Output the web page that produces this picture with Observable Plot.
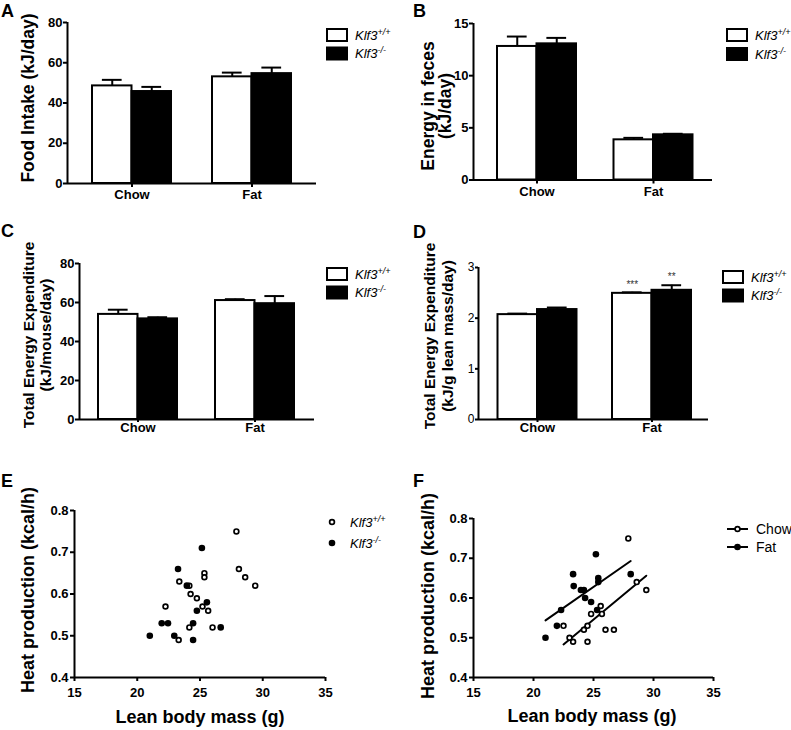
<!DOCTYPE html>
<html><head><meta charset="utf-8">
<script src="https://cdn.jsdelivr.net/npm/d3@7"></script>
<script src="https://cdn.jsdelivr.net/npm/@observablehq/plot@0.6"></script>
<style>
body{margin:0;background:#fff;}
#fig{position:relative;width:791px;height:730px;overflow:hidden;background:#fff;}
#fig > svg{position:absolute;}
</style></head><body><div id="fig"></div>
<script>
// ---------- data ----------
const diets = ["Chow", "Fat"];
const genotypes = ["Klf3+/+", "Klf3-/-"];

// A: Food intake (kJ/day)
const foodWT = [48.5, 53.0], foodWTsem = [3.0, 2.1];
const foodKO = [45.7, 54.6], foodKOsem = [2.3, 3.0];
// B: Energy in feces (kJ/day)
const fecesWT = [12.8, 3.85], fecesWTsem = [0.95, 0.19];
const fecesKO = [13.05, 4.33], fecesKOsem = [0.57, 0.10];
// C: Total energy expenditure (kJ/mouse/day)
const teeWT = [53.9, 61.0], teeWTsem = [2.4, 0.7];
const teeKO = [51.6, 59.4], teeKOsem = [0.85, 3.9];
// D: Total energy expenditure (kJ/g lean mass/day)
const teeLeanWT = [2.07, 2.49], teeLeanWTsem = [0.02, 0.02];
const teeLeanKO = [2.17, 2.55], teeLeanKOsem = [0.04, 0.10];
const sigWT = ["", "***"], sigKO = ["", "**"];

// E: by genotype
const wtMass = [27.9, 28.1, 28.6, 29.4, 25.35, 25.35, 23.35, 24.15, 24.25, 24.75, 22.25, 25.2, 25.65, 26.0, 24.15, 23.3];
const wtHeat = [0.75, 0.66, 0.64, 0.62, 0.65, 0.64, 0.63, 0.62, 0.60, 0.59, 0.57, 0.57, 0.56, 0.52, 0.52, 0.49];
const koMass = [25.15, 23.25, 23.95, 25.55, 24.75, 21.0, 21.95, 22.45, 22.95, 24.45, 24.45, 26.65];
const koHeat = [0.71, 0.66, 0.62, 0.58, 0.56, 0.50, 0.53, 0.53, 0.50, 0.53, 0.49, 0.52];
// F: by diet
const chowMass = [27.9, 28.6, 29.4, 25.6, 24.8, 25.7, 22.5, 24.5, 24.2, 26.0, 26.7, 23.0, 23.3, 24.5];
const chowHeat = [0.75, 0.64, 0.62, 0.58, 0.56, 0.56, 0.53, 0.53, 0.52, 0.52, 0.52, 0.50, 0.49, 0.49];
const fatMass = [25.2, 23.3, 23.35, 25.4, 25.4, 28.1, 23.95, 24.2, 24.3, 24.8, 22.3, 25.3, 21.95, 21.0];
const fatHeat = [0.71, 0.66, 0.63, 0.65, 0.64, 0.66, 0.62, 0.62, 0.60, 0.59, 0.57, 0.57, 0.53, 0.50];

const yTicksA = [0, 20, 40, 60, 80];
const yTicksB = [0, 5, 10, 15];
const yTicksC = [0, 20, 40, 60, 80];
const yTicksD = [0, 1, 2, 3];
const xTicksEF = [15, 20, 25, 30, 35];
const yTicksEF = [0.4, 0.5, 0.6, 0.7, 0.8];

// ---------- helpers ----------
const FONT = "Liberation Sans, Arial, Helvetica, sans-serif";
const fig = document.getElementById("fig");

function barRows(wt, wtSem, ko, koSem, wtSig = [], koSig = []) {
  const rows = [];
  diets.forEach((diet, di) => {
    rows.push({diet, di, gi: 0, geno: genotypes[0], mean: wt[di], sem: wtSem[di], sig: wtSig[di] || ""});
    rows.push({diet, di, gi: 1, geno: genotypes[1], mean: ko[di], sem: koSem[di], sig: koSig[di] || ""});
  });
  return rows;
}

function place(svg, left, top) {
  svg.style.left = left + "px";
  svg.style.top = top + "px";
  fig.appendChild(svg);
}

function barPanel(o) {
  const step = o.c1 - o.c0;
  const W = 39.5 / step;
  const dom = [-(o.c0 - o.axisX) / step, 1 + (o.axisEnd - o.c1) / step];
  const x1 = d => d.di + (d.gi - 1) * W;
  const x2 = d => d.di + d.gi * W;
  const xc = d => d.di + (d.gi - 0.5) * W;
  const rows = o.rows;
  const marks = [
    Plot.rect(rows.filter(d => d.gi === 0), {x1, x2, y1: () => 0, y2: "mean", fill: "white", stroke: "black", strokeWidth: 2}),
    Plot.rect(rows.filter(d => d.gi === 1), {x1, x2, y1: () => 0, y2: "mean", fill: "black", stroke: "black", strokeWidth: 2}),
    Plot.ruleX(rows, {x: xc, y1: "mean", y2: d => d.mean + d.sem, stroke: "black", strokeWidth: 2}),
    Plot.ruleY(rows, {y: d => d.mean + d.sem, x1: d => xc(d) - W / 4, x2: d => xc(d) + W / 4, stroke: "black", strokeWidth: 2}),
    Plot.ruleY([0], {stroke: "black", strokeWidth: 2}),
    Plot.ruleX([dom[0]], {stroke: "black", strokeWidth: 2}),
    Plot.axisX({ticks: [0, 1], tickFormat: i => diets[i], tickSize: o.catTick, tickPadding: o.catPad, label: null,
      fontSize: 13, fontWeight: "bold", strokeWidth: 2}),
    Plot.axisY({ticks: o.yTicks, tickSize: o.yTickSize, tickPadding: 1, tickFormat: d => String(d), label: null,
      fontSize: o.yFont, fontWeight: o.yWeight, strokeWidth: 2})
  ];
  if (o.sig) {
    marks.push(Plot.text(rows.filter(d => d.sig), {x: xc, y: d => d.mean + d.sem, text: "sig", dy: -8,
      fontSize: 10, fill: "#333", textAnchor: "middle"}));
  }
  const svg = Plot.plot({
    width: o.width, height: o.height,
    marginLeft: o.axisX - o.left, marginRight: o.left + o.width - o.axisEnd,
    marginTop: o.frameTop - o.top, marginBottom: o.top + o.height - o.frameBottom,
    x: {type: "linear", domain: dom},
    y: {domain: [0, o.yMax]},
    style: {fontFamily: FONT, fontSize: "13px", overflow: "visible", background: "transparent", color: "black"},
    marks
  });
  place(svg, o.left, o.top);
}

function scatterPanel(o) {
  const marks = [
    Plot.ruleX([15], {stroke: "black", strokeWidth: 2}),
    Plot.ruleY([0.4], {stroke: "black", strokeWidth: 2}),
    Plot.axisX({ticks: xTicksEF, tickSize: 4, tickPadding: 6, label: null, fontSize: 13, fontWeight: "bold", strokeWidth: 2}),
    Plot.axisY({ticks: yTicksEF, tickSize: 4, tickPadding: 2, tickFormat: d3.format(".1f"), label: null, fontSize: 13, fontWeight: "bold", strokeWidth: 2})
  ];
  if (o.regress) {
    for (const s of o.series) {
      marks.push(Plot.linearRegressionY(s.data, {x: "x", y: "y", ci: 0, stroke: "black", strokeWidth: 2}));
    }
  }
  for (const s of o.series) {
    if (s.open) marks.push(Plot.dot(s.data, {x: "x", y: "y", r: 2.4, fill: "white", stroke: "black", strokeWidth: 1.7}));
    else marks.push(Plot.dot(s.data, {x: "x", y: "y", r: 3.3, fill: "black", stroke: "none"}));
  }
  const svg = Plot.plot({
    width: o.width, height: o.height,
    marginLeft: o.x0 - o.left, marginRight: o.left + o.width - o.x1,
    marginTop: o.y1 - o.top, marginBottom: o.top + o.height - o.y0,
    x: {domain: [15, 35]},
    y: {domain: [0.4, 0.8]},
    style: {fontFamily: FONT, fontSize: "13px", overflow: "visible", background: "transparent", color: "black"},
    marks
  });
  place(svg, o.left, o.top);
}

const pts = (xs, ys) => xs.map((x, i) => ({x, y: ys[i]}));

// ---------- panels ----------
barPanel({rows: barRows(foodWT, foodWTsem, foodKO, foodKOsem), left: 0, top: 0, width: 390, height: 215,
  axisX: 67, c0: 131.5, c1: 251.5, axisEnd: 316, frameTop: 22, frameBottom: 183, yMax: 80, yTicks: yTicksA,
  yTickSize: 4, yFont: 13, yWeight: "bold", catTick: 4, catPad: 2});
barPanel({rows: barRows(fecesWT, fecesWTsem, fecesKO, fecesKOsem), left: 390, top: 0, width: 401, height: 215,
  axisX: 473, c0: 536.5, c1: 653, axisEnd: 712, frameTop: 23, frameBottom: 179.5, yMax: 15, yTicks: yTicksB,
  yTickSize: 4, yFont: 13, yWeight: "bold", catTick: 4, catPad: 3});
barPanel({rows: barRows(teeWT, teeWTsem, teeKO, teeKOsem), left: 0, top: 215, width: 390, height: 225,
  axisX: 79, c0: 137.5, c1: 254.5, axisEnd: 314, frameTop: 263, frameBottom: 419, yMax: 80, yTicks: yTicksC,
  yTickSize: 4, yFont: 13, yWeight: "bold", catTick: 3, catPad: 0});
barPanel({rows: barRows(teeLeanWT, teeLeanWTsem, teeLeanKO, teeLeanKOsem, sigWT, sigKO), left: 390, top: 215, width: 401, height: 225,
  axisX: 478, c0: 537, c1: 651.5, axisEnd: 708, frameTop: 267, frameBottom: 419, yMax: 3, yTicks: yTicksD,
  yTickSize: 3, yFont: 12, yWeight: "normal", catTick: 3, catPad: 0, sig: true});

scatterPanel({left: 0, top: 440, width: 390, height: 290, x0: 74, x1: 325, y1: 510, y0: 677,
  series: [{data: pts(wtMass, wtHeat), open: true}, {data: pts(koMass, koHeat), open: false}]});
scatterPanel({left: 390, top: 440, width: 401, height: 290, x0: 473, x1: 713, y1: 518, y0: 677, regress: true,
  series: [{data: pts(chowMass, chowHeat), open: true}, {data: pts(fatMass, fatHeat), open: false}]});

// ---------- overlay: panel letters, axis titles, legends ----------
const ov = d3.select(fig).append("svg")
  .attr("width", 791).attr("height", 730)
  .style("left", "0px").style("top", "0px").style("pointer-events", "none")
  .attr("font-family", FONT);

[["A", 1, 17], ["B", 413, 17], ["C", 1, 237], ["D", 413, 238], ["E", 1, 487], ["F", 413, 487]].forEach(([t, x, y]) =>
  ov.append("text").attr("x", x).attr("y", y).attr("font-size", 18).attr("font-weight", "bold").text(t));

function vtitle(lines, xs, cy, size) {
  lines.forEach((t, i) => ov.append("text")
    .attr("transform", `translate(${xs[i]},${cy}) rotate(-90)`)
    .attr("text-anchor", "middle").attr("dominant-baseline", "central")
    .attr("font-size", size).attr("font-weight", "bold").text(t));
}
vtitle(["Food Intake (kJ/day)"], [28], 98, 17.5);
vtitle(["Energy in feces", "(kJ/day)"], [428, 445], 106, 17.5);
vtitle(["Total Energy Expenditure", "(kJ/mouse/day)"], [28, 45], 335, 15.5);
vtitle(["Total Energy Expenditure", "(kJ/g lean mass/day)"], [429, 447], 336, 15.5);
vtitle(["Heat production (kcal/h)"], [28], 590, 18);
vtitle(["Heat production (kcal/h)"], [428], 596, 18);

[[200, 723], [592, 722]].forEach(([x, y]) => ov.append("text").attr("x", x).attr("y", y)
  .attr("text-anchor", "middle").attr("font-size", 18).attr("font-weight", "bold").text("Lean body mass (g)"));

function genoLabel(x, cy, gi) {
  const t = ov.append("text").attr("x", x).attr("y", cy + 4.7).attr("font-size", 13).attr("font-style", "italic");
  t.append("tspan").text("Klf3");
  t.append("tspan").attr("dy", -5).attr("font-size", 9).text(gi === 0 ? "+/+" : "-/-");
}
function boxLegend(x, y0, y1) {
  ov.append("rect").attr("x", x).attr("y", y0).attr("width", 20).attr("height", 12)
    .attr("fill", "white").attr("stroke", "black").attr("stroke-width", 2);
  ov.append("rect").attr("x", x).attr("y", y1).attr("width", 20).attr("height", 12)
    .attr("fill", "black").attr("stroke", "black").attr("stroke-width", 2);
  genoLabel(x + 28, y0 + 6, 0);
  genoLabel(x + 28, y1 + 6, 1);
}
boxLegend(327, 29, 47.5);
boxLegend(727, 29, 48);
boxLegend(327, 268, 286.5);
boxLegend(723, 271, 289.5);

// E legend
ov.append("circle").attr("cx", 332).attr("cy", 522).attr("r", 2.4).attr("fill", "white").attr("stroke", "black").attr("stroke-width", 1.7);
ov.append("circle").attr("cx", 332).attr("cy", 543).attr("r", 3.3).attr("fill", "black");
genoLabel(350, 522, 0);
genoLabel(350, 543, 1);

// F legend
[[529, true, "Chow"], [547, false, "Fat"]].forEach(([y, open, label]) => {
  ov.append("line").attr("x1", 727).attr("x2", 748).attr("y1", y).attr("y2", y).attr("stroke", "black").attr("stroke-width", 2);
  if (open) ov.append("circle").attr("cx", 737.5).attr("cy", y).attr("r", 2.4).attr("fill", "white").attr("stroke", "black").attr("stroke-width", 1.7);
  else ov.append("circle").attr("cx", 737.5).attr("cy", y).attr("r", 3.3).attr("fill", "black");
  ov.append("text").attr("x", 756).attr("y", y + 5).attr("font-size", 14).text(label);
});
</script></body></html>
